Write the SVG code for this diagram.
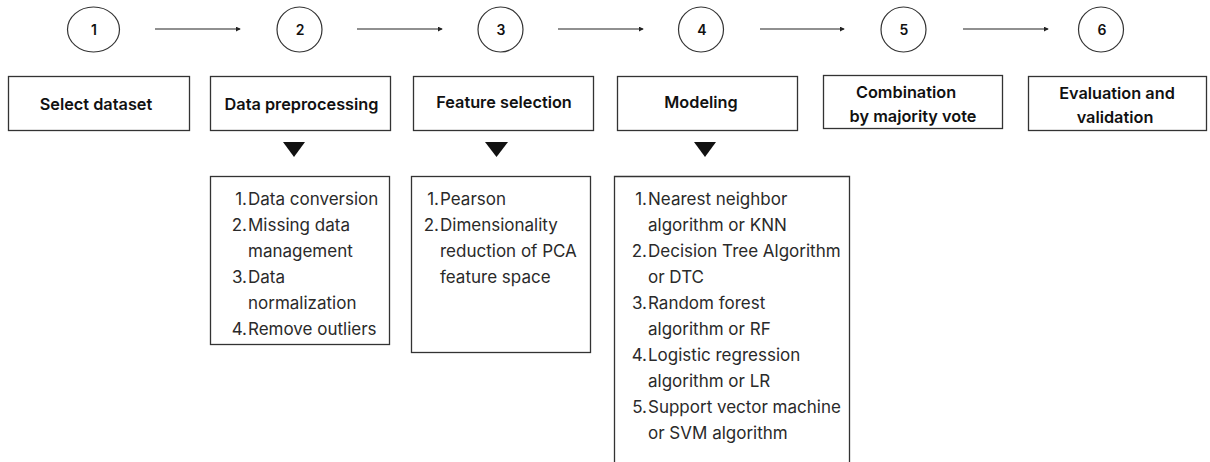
<svg xmlns="http://www.w3.org/2000/svg" width="1210" height="462" viewBox="0 0 1210 462">
<style>
.c{fill:#fff;stroke:#333;stroke-width:1.2}
.b{fill:#fff;stroke:#333;stroke-width:1.3}
.t{font-family:Inter,"Liberation Sans",sans-serif;font-weight:600;font-size:16.3px;fill:#111;text-anchor:middle}
.n{font-family:Inter,"Liberation Sans",sans-serif;font-weight:600;font-size:14px;fill:#111;text-anchor:middle}
.l{font-family:Inter,"Liberation Sans",sans-serif;font-size:17px;fill:#2a2a2a}
.ln{text-anchor:end}
.a{stroke:#222;stroke-width:1.2;fill:none}
.tri{fill:#111}
</style>
<defs>
<marker id="ah" viewBox="0 0 6 6" refX="5" refY="3" markerWidth="5" markerHeight="5" orient="auto" markerUnits="userSpaceOnUse">
<path d="M0,0 L6,3 L0,6 z" fill="#222"/>
</marker>
</defs>
<g id="connectors">
<line class="a" x1="155" y1="29" x2="240" y2="29" marker-end="url(#ah)"/>
<line class="a" x1="357" y1="29" x2="442" y2="29" marker-end="url(#ah)"/>
<line class="a" x1="558" y1="29" x2="643" y2="29" marker-end="url(#ah)"/>
<line class="a" x1="760" y1="29" x2="844" y2="29" marker-end="url(#ah)"/>
<line class="a" x1="963" y1="29" x2="1048" y2="29" marker-end="url(#ah)"/>
<path class="tri" d="M283,142 L305,142 L294,157 z"/>
<path class="tri" d="M485,142 L508,142 L496.5,157 z"/>
<path class="tri" d="M694,142 L716,142 L705,157 z"/>
</g>
<g id="step1"><ellipse class="c" cx="93.5" cy="29.5" rx="26" ry="22.5"/><text class="n" x="94" y="35">1</text></g>
<g id="step2"><ellipse class="c" cx="299.5" cy="29.5" rx="22.5" ry="22.5"/><text class="n" x="300" y="35">2</text></g>
<g id="step3"><ellipse class="c" cx="500.5" cy="29.5" rx="22.5" ry="22.5"/><text class="n" x="501" y="35">3</text></g>
<g id="step4"><ellipse class="c" cx="701" cy="29.5" rx="22.5" ry="22.5"/><text class="n" x="702" y="35">4</text></g>
<g id="step5"><ellipse class="c" cx="903.5" cy="29.5" rx="22.5" ry="22.5"/><text class="n" x="904" y="35">5</text></g>
<g id="step6"><ellipse class="c" cx="1101" cy="29.5" rx="22.5" ry="22.5"/><text class="n" x="1102" y="35">6</text></g>
<g id="select-dataset"><rect class="b" x="8.5" y="76.5" width="181" height="54"/><text class="t" x="96" y="110">Select dataset</text></g>
<g id="data-preprocessing"><rect class="b" x="210.5" y="76.5" width="180" height="54"/><text class="t" x="301.5" y="110">Data preprocessing</text></g>
<g id="feature-selection"><rect class="b" x="413.5" y="76.5" width="180" height="54"/><text class="t" x="504" y="108">Feature selection</text></g>
<g id="modeling"><rect class="b" x="617.5" y="76.5" width="180" height="54"/><text class="t" x="701" y="108">Modeling</text></g>
<g id="combination"><rect class="b" x="823.5" y="75.5" width="179" height="53"/><text class="t" x="906" y="98">Combination</text><text class="t" x="913" y="122">by majority vote</text></g>
<g id="evaluation"><rect class="b" x="1028.5" y="76.5" width="178" height="54"/><text class="t" x="1117" y="99">Evaluation and</text><text class="t" x="1115" y="123">validation</text></g>
<g id="preprocessing-list">
<rect class="b" x="210.5" y="176.5" width="179" height="168"/>
<text class="l ln" x="247" y="205">1.</text><text class="l" x="248" y="205">Data conversion</text>
<text class="l ln" x="247" y="231">2.</text><text class="l" x="248" y="231">Missing data</text>
<text class="l" x="248" y="257">management</text>
<text class="l ln" x="247" y="283">3.</text><text class="l" x="248" y="283">Data</text>
<text class="l" x="248" y="309">normalization</text>
<text class="l ln" x="247" y="335">4.</text><text class="l" x="248" y="335">Remove outliers</text>
</g>
<g id="feature-list">
<rect class="b" x="411.5" y="176.5" width="179" height="176"/>
<text class="l ln" x="439" y="205">1.</text><text class="l" x="440" y="205">Pearson</text>
<text class="l ln" x="439" y="231">2.</text><text class="l" x="440" y="231">Dimensionality</text>
<text class="l" x="440" y="257">reduction of PCA</text>
<text class="l" x="440" y="283">feature space</text>
</g>
<g id="modeling-list">
<path class="b" d="M614.5,470 L614.5,176.5 L849.5,176.5 L849.5,470"/>
<text class="l ln" x="647" y="205">1.</text><text class="l" x="648" y="205">Nearest neighbor</text>
<text class="l" x="648" y="231">algorithm or KNN</text>
<text class="l ln" x="647" y="257">2.</text><text class="l" x="648" y="257">Decision Tree Algorithm</text>
<text class="l" x="648" y="283">or DTC</text>
<text class="l ln" x="647" y="309">3.</text><text class="l" x="648" y="309">Random forest</text>
<text class="l" x="648" y="335">algorithm or RF</text>
<text class="l ln" x="647" y="361">4.</text><text class="l" x="648" y="361">Logistic regression</text>
<text class="l" x="648" y="387">algorithm or LR</text>
<text class="l ln" x="647" y="413">5.</text><text class="l" x="648" y="413">Support vector machine</text>
<text class="l" x="648" y="439">or SVM algorithm</text>
</g>
</svg>
